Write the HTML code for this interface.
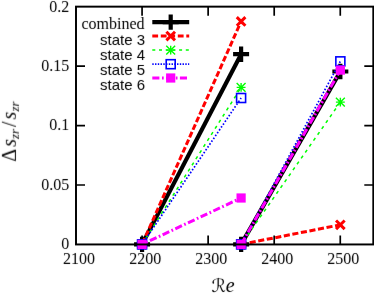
<!DOCTYPE html>
<html><head><meta charset="utf-8"><title>plot</title>
<style>
html,body{margin:0;padding:0;background:#fff;}
body{width:374px;height:295px;overflow:hidden;font-family:"Liberation Sans",sans-serif;}
svg{display:block;}
</style></head><body>
<svg width="374" height="295" viewBox="0 0 374 295">
<defs>
<filter id="tb" filterUnits="userSpaceOnUse" x="-5" y="-5" width="384" height="305"><feConvolveMatrix order="3" kernelMatrix="0.00276 0.04704 0.00276 0.04704 0.80077 0.04704 0.00276 0.04704 0.00276" edgeMode="none" preserveAlpha="false"/></filter>
</defs>
<rect width="374" height="295" fill="#fff"/>
<g >
<rect x="-5" y="-5" width="384" height="305" fill="#fff"/>

<path d="M142.06666666666666,244.45V235.45M142.06666666666666,6.65V15.65" stroke="#000" stroke-width="1.7"/>
<path d="M208.13333333333333,244.45V235.45M208.13333333333333,6.65V15.65" stroke="#000" stroke-width="1.7"/>
<path d="M274.2,244.45V235.45M274.2,6.65V15.65" stroke="#000" stroke-width="1.7"/>
<path d="M340.26666666666665,244.45V235.45M340.26666666666665,6.65V15.65" stroke="#000" stroke-width="1.7"/>
<path d="M76.0,185.0H85.0M373.3,185.0H364.3" stroke="#000" stroke-width="1.7"/>
<path d="M76.0,125.55H85.0M373.3,125.55H364.3" stroke="#000" stroke-width="1.7"/>
<path d="M76.0,66.1H85.0M373.3,66.1H364.3" stroke="#000" stroke-width="1.7"/>
<path d="M142.07,244.4L241.1,54.2" stroke="#000000" stroke-width="4.2" fill="none"/>
<path d="M134.07,244.4H150.07M142.07,236.72V252.08" stroke="#000" stroke-width="4.2" fill="none"/>
<path d="M233.1,54.2H249.1M241.1,46.52V61.88" stroke="#000" stroke-width="4.2" fill="none"/>
<path d="M241.15,244.4L340.35,71.5" stroke="#000000" stroke-width="4.2" fill="none"/>
<path d="M233.15,244.4H249.15M241.15,236.72V252.08" stroke="#000" stroke-width="4.2" fill="none"/>
<path d="M332.35,71.5H348.35M340.35,63.82V79.18" stroke="#000" stroke-width="4.2" fill="none"/>
<path d="M142.07,244.4L241.1,21.4" stroke="#ff0000" stroke-width="3" fill="none" stroke-dasharray="5.9,2.4" stroke-dashoffset="-0.95"/>
<path d="M137.76999999999998,240.1L146.37,248.70000000000002M137.76999999999998,248.70000000000002L146.37,240.1" stroke="#ff0000" stroke-width="3" fill="none"/>
<path d="M236.79999999999998,17.099999999999998L245.4,25.7M236.79999999999998,25.7L245.4,17.099999999999998" stroke="#ff0000" stroke-width="3" fill="none"/>
<path d="M241.15,244.4L340.35,224.8" stroke="#ff0000" stroke-width="3" fill="none" stroke-dasharray="6.1,2.6"/>
<path d="M236.85,240.1L245.45000000000002,248.70000000000002M236.85,248.70000000000002L245.45000000000002,240.1" stroke="#ff0000" stroke-width="3" fill="none"/>
<path d="M336.05,220.5L344.65000000000003,229.10000000000002M336.05,229.10000000000002L344.65000000000003,220.5" stroke="#ff0000" stroke-width="3" fill="none"/>
<path d="M142.07,244.4L241.1,87.4" stroke="#00ff00" stroke-width="1.5" fill="none" stroke-dasharray="3.2,4"/>
<path d="M137.62,244.4H146.51999999999998M142.07,239.95000000000002V248.85M137.62,239.95000000000002L146.51999999999998,248.85M137.62,248.85L146.51999999999998,239.95000000000002" stroke="#00ff00" stroke-width="1.4" fill="none"/>
<path d="M236.65,87.4H245.54999999999998M241.1,82.95V91.85000000000001M236.65,82.95L245.54999999999998,91.85000000000001M236.65,91.85000000000001L245.54999999999998,82.95" stroke="#00ff00" stroke-width="1.4" fill="none"/>
<path d="M241.15,244.4L340.35,102.15" stroke="#00ff00" stroke-width="1.5" fill="none" stroke-dasharray="3.2,4" stroke-dashoffset="-4.1"/>
<path d="M236.70000000000002,244.4H245.6M241.15,239.95000000000002V248.85M236.70000000000002,239.95000000000002L245.6,248.85M236.70000000000002,248.85L245.6,239.95000000000002" stroke="#00ff00" stroke-width="1.4" fill="none"/>
<path d="M335.90000000000003,102.15H344.8M340.35,97.7V106.60000000000001M335.90000000000003,97.7L344.8,106.60000000000001M335.90000000000003,106.60000000000001L344.8,97.7" stroke="#00ff00" stroke-width="1.4" fill="none"/>
<path d="M142.07,244.4L241.1,98.0" stroke="#0000ff" stroke-width="1.7" fill="none" stroke-dasharray="1.6,1.84"/>
<rect x="137.57" y="239.90" width="9.0" height="9.0" stroke="#0000ff" stroke-width="1.6" fill="none"/>
<rect x="236.60" y="93.50" width="9.0" height="9.0" stroke="#0000ff" stroke-width="1.6" fill="none"/>
<path d="M241.15,244.4L340.35,61.35" stroke="#0000ff" stroke-width="1.7" fill="none" stroke-dasharray="1.6,1.84"/>
<rect x="236.65" y="239.90" width="9.0" height="9.0" stroke="#0000ff" stroke-width="1.6" fill="none"/>
<rect x="335.85" y="56.85" width="9.0" height="9.0" stroke="#0000ff" stroke-width="1.6" fill="none"/>
<path d="M142.07,244.4L241.1,198.0" stroke="#ff00ff" stroke-width="3" fill="none" stroke-dasharray="7.3,2.5,1.7,2.5" stroke-dashoffset="5.3"/>
<rect x="137.47" y="239.8" width="9.2" height="9.2" fill="#ff00ff"/>
<rect x="236.5" y="193.4" width="9.2" height="9.2" fill="#ff00ff"/>
<path d="M241.15,244.4L340.35,70.1" stroke="#ff00ff" stroke-width="3" fill="none" stroke-dasharray="7.7,2.2,1.8,2.2"/>
<rect x="236.55" y="239.8" width="9.2" height="9.2" fill="#ff00ff"/>
<rect x="335.75" y="65.5" width="9.2" height="9.2" fill="#ff00ff"/>
<path d="M152.3,22.1L189.2,22.1" stroke="#000000" stroke-width="4.2" fill="none"/>
<path d="M162.7,22.1H178.7M170.7,14.420000000000002V29.78" stroke="#000" stroke-width="4.2" fill="none"/>
<path d="M152.3,36.1L189.2,36.1" stroke="#ff0000" stroke-width="3" fill="none" stroke-dasharray="5.8,2.7"/>
<path d="M166.39999999999998,31.8L175.0,40.4M166.39999999999998,40.4L175.0,31.8" stroke="#ff0000" stroke-width="3" fill="none"/>
<path d="M152.3,50.1L189.2,50.1" stroke="#00ff00" stroke-width="1.5" fill="none" stroke-dasharray="3,3.7"/>
<path d="M166.25,50.1H175.14999999999998M170.7,45.65V54.550000000000004M166.25,45.65L175.14999999999998,54.550000000000004M166.25,54.550000000000004L175.14999999999998,45.65" stroke="#00ff00" stroke-width="1.4" fill="none"/>
<path d="M152.3,64.2L189.2,64.2" stroke="#0000ff" stroke-width="1.7" fill="none" stroke-dasharray="1.4,1.35"/>
<rect x="166.20" y="59.70" width="9.0" height="9.0" stroke="#0000ff" stroke-width="1.6" fill="none"/>
<path d="M152.3,78.0L189.2,78.0" stroke="#ff00ff" stroke-width="3" fill="none" stroke-dasharray="7.1,2.6,1.7,2.4"/>
<rect x="166.1" y="73.4" width="9.2" height="9.2" fill="#ff00ff"/>
<rect x="76.0" y="6.65" width="297.3" height="237.79999999999998" fill="none" stroke="#000" stroke-width="1.95"/>
</g>
<g filter="url(#tb)" fill="#000">
<text x="144.5" y="28.85" font-family="'Liberation Serif',serif" font-size="16" text-anchor="end">combined</text>
<text x="145.1" y="44.5" font-family="'Liberation Sans',sans-serif" font-size="15" text-anchor="end">state 3</text>
<text x="145.1" y="59.5" font-family="'Liberation Sans',sans-serif" font-size="15" text-anchor="end">state 4</text>
<text x="145.1" y="74.55" font-family="'Liberation Sans',sans-serif" font-size="15" text-anchor="end">state 5</text>
<text x="145.1" y="89.6" font-family="'Liberation Sans',sans-serif" font-size="15" text-anchor="end">state 6</text>
<text x="79.1" y="264" font-family="'Liberation Serif',serif" font-size="16" text-anchor="middle">2100</text>
<text x="145.17" y="264" font-family="'Liberation Serif',serif" font-size="16" text-anchor="middle">2200</text>
<text x="211.23" y="264" font-family="'Liberation Serif',serif" font-size="16" text-anchor="middle">2300</text>
<text x="277.3" y="264" font-family="'Liberation Serif',serif" font-size="16" text-anchor="middle">2400</text>
<text x="343.37" y="264" font-family="'Liberation Serif',serif" font-size="16" text-anchor="middle">2500</text>
<text x="69.3" y="249.35" font-family="'Liberation Serif',serif" font-size="16" text-anchor="end">0</text>
<text x="69.3" y="189.9" font-family="'Liberation Serif',serif" font-size="16" text-anchor="end">0.05</text>
<text x="69.3" y="130.45" font-family="'Liberation Serif',serif" font-size="16" text-anchor="end">0.1</text>
<text x="69.3" y="71" font-family="'Liberation Serif',serif" font-size="16" text-anchor="end">0.15</text>
<text x="69.3" y="11.55" font-family="'Liberation Serif',serif" font-size="16" text-anchor="end">0.2</text>
<text x="211.4" y="292.3" font-family="'Liberation Serif','DejaVu Serif','DejaVu Sans',serif" font-size="20" font-style="italic"><tspan font-family="'DejaVu Sans','DejaVu Serif',serif" font-size="18">ℛ</tspan>e</text>
<text transform="translate(15.9,161.74) rotate(-90)" x="0" y="0" font-family="'Liberation Serif',serif" font-size="20">Δ<tspan font-style="italic" dx="2">s</tspan><tspan font-style="italic" font-size="13" dy="3">zr</tspan><tspan dy="-3" dx="2">/</tspan><tspan font-style="italic" dx="2">s</tspan><tspan font-style="italic" font-size="13" dy="3">zr</tspan></text>
</g></svg></body></html>
